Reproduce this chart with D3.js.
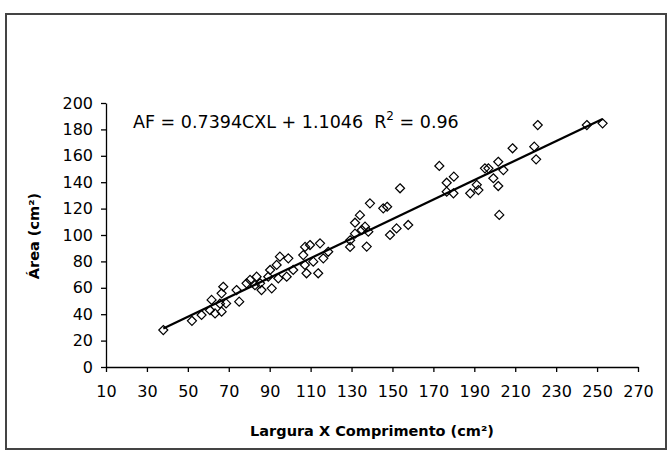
<!DOCTYPE html>
<html><head><meta charset="utf-8">
<script src="https://cdn.jsdelivr.net/npm/d3@7"></script>
<style>body{margin:0;background:#fff}svg{display:block}</style>
</head><body><svg id="c" width="668" height="453"></svg>
<script>
const xValues = [38,52,56.7,61.6,60.8,63.3,66.5,65.7,66.5,67.3,68.7,73.8,75.1,78.7,80.4,83.6,82.8,86,85.3,89.3,91,90.2,93.4,94.2,98.3,99.1,95,101.5,106.4,107.2,108,111.3,113.7,116.2,118.6,
 107.3,109.7,114.6,129.3,129.3,131.7,131.7,134.1,135,136.6,137.4,138.2,139,145.5,147.4,148.8,152,153.7,157.7,172.9,176.5,180,179.8,176.5,188,191.2,192,
 195.2,196.9,201.7,204.2,199.3,201.7,202.2,208.7,219.3,220.2,221,245,252.7];
const yValues = [28,35,39.4,50.8,43,40.6,41.9,48,55.8,60.8,48.2,58.3,49.5,63.4,66,68.4,62,58.3,63.4,68.4,59.6,73.5,77.3,67.2,68.4,82.3,83.6,73.5,84.8,77.3,71,79.8,71,82.3,87.3,
 91,92.4,93.7,91,96,101,109.3,115,103.8,106.3,91.2,102.5,124,120.2,121.4,100,105,135.4,107.6,152.3,139.6,144.2,131.6,132.8,131.6,138,134,
 150.5,150.5,155.5,149.2,143,137.1,115.2,165.7,166.9,157.3,183.3,183.3,184.6];
const xTicks = [10,30,50,70,90,110,130,150,170,190,210,230,250,270];
const yTicks = [0,20,40,60,80,100,120,140,160,180,200];
const slope = 0.7394, intercept = 1.1046;
const equationParts = ["AF = 0.7394CXL + 1.1046  R", "2", " = 0.96"];

(function(){
const svg = d3.select("#c");
const mL = 106, mR = 638, mT = 103, mB = 367;
const x = d3.scaleLinear().domain([10,270]).range([mL,mR]);
const y = d3.scaleLinear().domain([0,200]).range([mB,mT]);
const font = "DejaVu Sans, sans-serif";

svg.append("rect").attr("x",6).attr("y",14).attr("width",660).attr("height",435)
  .attr("fill","none").attr("stroke","#444").attr("stroke-width",2);

const gx = svg.append("g").attr("transform",`translate(0,${mB})`)
  .call(d3.axisBottom(x).tickValues(xTicks).tickSize(5).tickPadding(14).tickSizeOuter(0));
const gy = svg.append("g").attr("transform",`translate(${mL},0)`)
  .call(d3.axisLeft(y).tickValues(yTicks).tickSize(5).tickPadding(8).tickSizeOuter(0));
[gx,gy].forEach(g=>{
  g.select(".domain").attr("stroke","#000").attr("stroke-width",1.3);
  g.selectAll(".tick line").attr("stroke","#000").attr("stroke-width",1.3);
  g.selectAll("text").attr("font-family",font).attr("font-size",16).attr("fill","#000");
});

const pts = xValues.map((v,i)=>[v,yValues[i]]);
const sym = d3.symbol().type(d3.symbolDiamond2).size(52);
svg.append("g").selectAll("path").data(pts).join("path")
  .attr("transform",d=>`translate(${x(d[0])},${y(d[1])})`)
  .attr("d",sym).attr("fill","none").attr("stroke","#000").attr("stroke-width",1.2);

const [x0,x1] = d3.extent(xValues);
svg.append("line").attr("x1",x(x0)).attr("y1",y(slope*x0+intercept))
  .attr("x2",x(x1)).attr("y2",y(slope*x1+intercept))
  .attr("stroke","#000").attr("stroke-width",2.2);

const eq = svg.append("text").attr("x",133).attr("y",128).attr("font-family",font).attr("font-size",17.5)
  .style("white-space","pre");
eq.append("tspan").text(equationParts[0]);
eq.append("tspan").attr("dy",-8).attr("font-size",12).text(equationParts[1]);
eq.append("tspan").attr("dy",8).text(equationParts[2]);

svg.append("text").attr("x",372).attr("y",436).attr("text-anchor","middle")
  .attr("font-family",font).attr("font-weight","bold").attr("font-size",14.5)
  .text("Largura X Comprimento (cm²)");
svg.append("text").attr("transform","translate(39,236) rotate(-90)").attr("text-anchor","middle")
  .attr("font-family",font).attr("font-weight","bold").attr("font-size",14.5)
  .text("Área (cm²)");
})();
</script></body></html>
